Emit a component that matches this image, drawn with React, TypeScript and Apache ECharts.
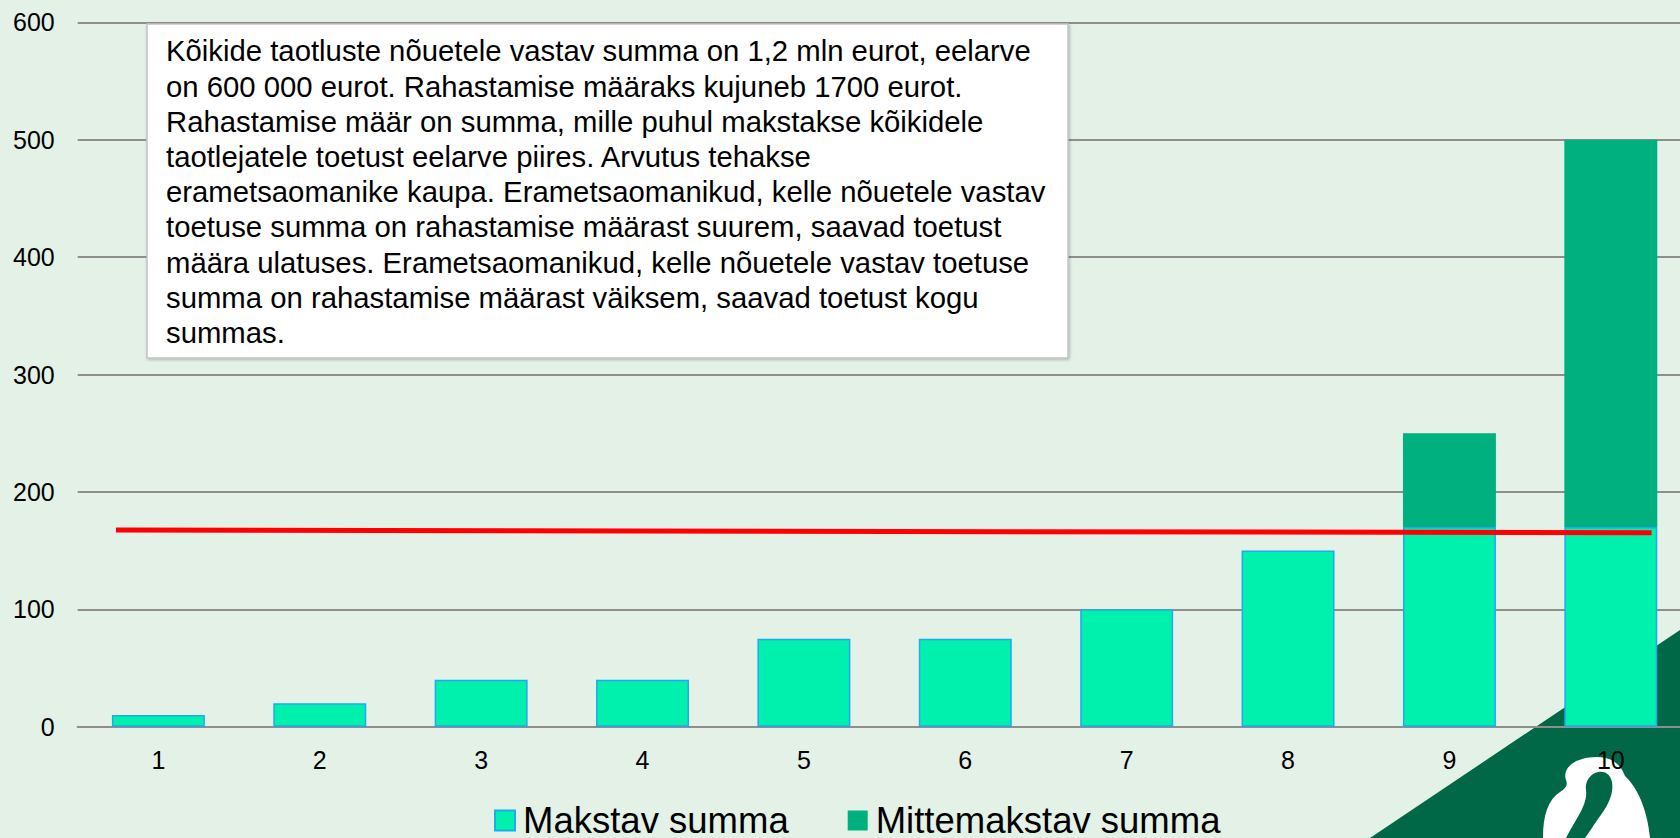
import React, { useEffect, useRef } from "react";
import * as echarts from "echarts";

const categories = ["1", "2", "3", "4", "5", "6", "7", "8", "9", "10"];
const makstav = [10, 20, 40, 40, 75, 75, 100, 150, 170, 170];
const mittemakstav = [0, 0, 0, 0, 0, 0, 0, 0, 80, 330];
const seriesNames = ["Makstav summa", "Mittemakstav summa"];
// funding-rate line, x in category-index units (0 = left edge of first category)
const rateLine = [
  [0.237, 167.5],
  [9.753, 165.2],
];
const yMin = 0;
const yMax = 600;
const yInterval = 100;
const noteLines = [
  "Kõikide taotluste nõuetele vastav summa on 1,2 mln eurot, eelarve",
  "on 600 000 eurot. Rahastamise määraks kujuneb 1700 eurot.",
  "Rahastamise määr on summa, mille puhul makstakse kõikidele",
  "taotlejatele toetust eelarve piires. Arvutus tehakse",
  "erametsaomanike kaupa. Erametsaomanikud, kelle nõuetele vastav",
  "toetuse summa on rahastamise määrast suurem, saavad toetust",
  "määra ulatuses. Erametsaomanikud, kelle nõuetele vastav toetuse",
  "summa on rahastamise määrast väiksem, saavad toetust kogu",
  "summas.",
];

const FONT = "'Liberation Sans', Arial, Helvetica, sans-serif";
const GRID_COLOR = "#8E8E8E";

let shapesRegistered = false;
function registerShapes() {
  if (shapesRegistered) return;
  shapesRegistered = true;
  echarts.graphic.registerShape(
    "rmkOuter",
    echarts.graphic.extendPath(
      "M1543 838 C1543 815 1548 800 1560 792 C1566 788 1568 785 1566 780 C1562 768 1575 757 1597 757 C1615 757 1622 768 1625 776 C1640 790 1648 815 1650 838 Z",
      {}
    )
  );
  echarts.graphic.registerShape(
    "rmkInner",
    echarts.graphic.extendPath(
      "M1586 790 C1584 772 1608 764 1612 782 C1615 800 1600 815 1592 828 L1585 838 L1566 838 C1575 820 1588 805 1586 790 Z",
      {}
    )
  );
}

export default function App() {
  const ref = useRef<HTMLDivElement>(null);

  useEffect(() => {
    if (!ref.current) return;
    registerShapes();
    const chart = echarts.init(ref.current, null, { renderer: "svg" });
    chart.setOption({
      animation: false,
      backgroundColor: "#E3F1E7",
      textStyle: { fontFamily: FONT },
      grid: { left: 77.7, top: 22.3, width: 1613.8, height: 704.4, containLabel: false },
      legend: {
        data: seriesNames,
        left: 494,
        top: 802,
        padding: 0,
        icon: "rect",
        itemWidth: 20,
        itemHeight: 20,
        itemGap: 59,
        textStyle: { fontSize: 36.5, color: "#000", fontFamily: FONT, padding: [0, 0, 0, 3] },
      },
      xAxis: [
        {
          type: "category",
          data: categories,
          axisLine: { show: true, lineStyle: { color: GRID_COLOR, width: 2 } },
          axisTick: { show: false },
          axisLabel: { fontSize: 25, color: "#000", margin: 21, lineHeight: 25, fontFamily: FONT },
        },
        {
          type: "value",
          min: 0,
          max: 10,
          show: false,
        },
      ],
      yAxis: {
        type: "value",
        min: yMin,
        max: yMax,
        interval: yInterval,
        axisLine: { show: false },
        axisTick: { show: false },
        axisLabel: { fontSize: 25, color: "#000", margin: 23, fontFamily: FONT },
        splitLine: { show: true, lineStyle: { color: GRID_COLOR, width: 2 } },
      },
      series: [
        {
          name: seriesNames[0],
          type: "bar",
          stack: "total",
          barWidth: "57.6%",
          data: makstav,
          itemStyle: { color: "#00F0AE", borderColor: "#1FA9F0", borderWidth: 1.5 },
        },
        {
          name: seriesNames[1],
          type: "bar",
          stack: "total",
          barWidth: "57.6%",
          data: mittemakstav,
          itemStyle: { color: "#00B07E" },
        },
        {
          name: "Rahastamise määr",
          type: "line",
          xAxisIndex: 1,
          data: rateLine,
          symbol: "none",
          z: 5,
          lineStyle: { color: "#FF0000", width: 5, cap: "butt" },
        },
      ],
      graphic: [
        {
          type: "polygon",
          z: -10,
          shape: { points: [[1370, 838], [1680, 630], [1680, 838]] },
          style: { fill: "#006847" },
        },
        { type: "rmkOuter", z: -9, style: { fill: "#FFFFFF" } },
        { type: "rmkInner", z: -8, style: { fill: "#006847" } },
        {
          type: "rect",
          z: 10,
          shape: { x: 147, y: 24, width: 921, height: 334 },
          style: {
            fill: "#FFFFFF",
            stroke: "#C3C3C3",
            lineWidth: 1.5,
            shadowBlur: 3,
            shadowOffsetX: 1,
            shadowOffsetY: 1,
            shadowColor: "rgba(0,0,0,0.25)",
          },
        },
        {
          type: "text",
          z: 11,
          x: 166,
          y: 33.4,
          style: {
            text: noteLines.join("\n"),
            fill: "#000",
            fontSize: 29.3,
            fontFamily: FONT,
            lineHeight: 35.2,
            verticalAlign: "top",
            align: "left",
          },
        },
      ],
    });
    return () => chart.dispose();
  }, []);

  return (
    <div
      style={{ position: "fixed", left: 0, top: 0, width: 1680, height: 838, overflow: "hidden" }}
    >
      <div ref={ref} style={{ width: 1692, height: 838 }} />
    </div>
  );
}
